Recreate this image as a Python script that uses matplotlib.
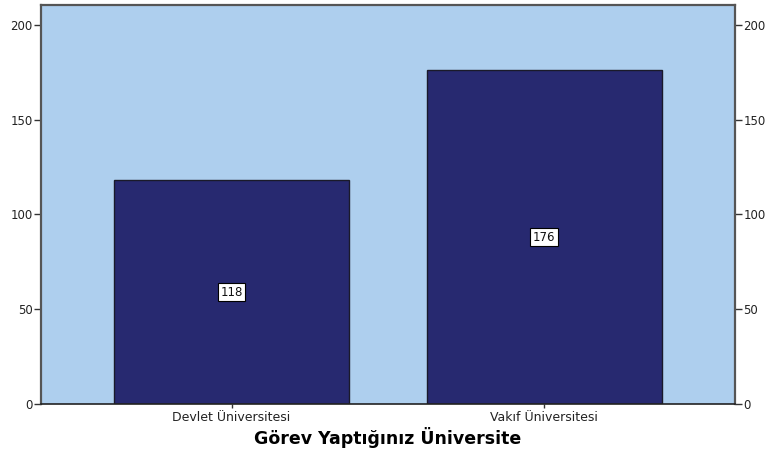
import numpy as np
import matplotlib.pyplot as plt

plt.rcParams['font.family'] = ['DejaVu Sans']

categories = ['Devlet Üniversitesi', 'Vakıf Üniversitesi']
counts = [118, 176]
yticks = [0, 50, 100, 150, 200]

fig = plt.figure(figsize=(7.67, 4.51), dpi=100)
ax = fig.add_axes([41/767, 47/451, 694/767, 399/451])
ax.set_facecolor('#aecfee')

x = np.arange(len(categories))
bars = ax.bar(x, counts, width=0.752, color='#272970', edgecolor='#1a1a2a', linewidth=1.0)

for b, v in zip(bars, counts):
    ax.text(b.get_x() + b.get_width()/2, v/2, str(v), ha='center', va='center',
            fontsize=8.5, color='#111111',
            bbox=dict(boxstyle='square,pad=0.2', facecolor='white', edgecolor='black', linewidth=0.8))

ax.set_xlim(-0.61, 1.611)
ax.set_ylim(0, 210.5)
ax.set_xticks(x)
ax.set_xticklabels(categories, fontsize=9, color='#222222')
ax.set_yticks(yticks)
ax.tick_params(axis='y', labelsize=8.5, labelcolor='#222222', length=5, width=1, color='#333333',
               right=True, labelright=True, direction='out', pad=1)
ax.tick_params(axis='x', length=3, width=1, color='#333333', direction='out', pad=2)
for s in ['left', 'right', 'top']:
    ax.spines[s].set_color('#555555')
    ax.spines[s].set_linewidth(1.6)
ax.spines['bottom'].set_color('#222222')
ax.spines['bottom'].set_linewidth(1.2)

ax.set_xlabel('Görev Yaptığınız Üniversite', fontsize=12.5, fontweight='bold', labelpad=2)

fig.savefig('out.png', dpi=100)
